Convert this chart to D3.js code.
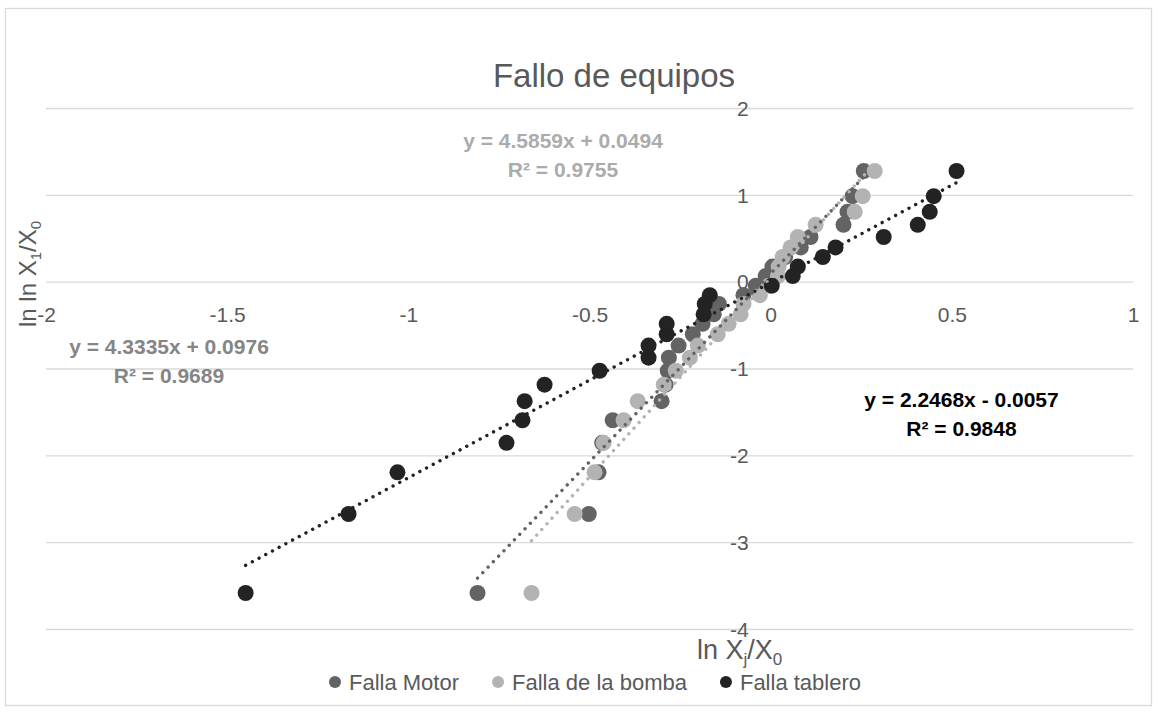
<!DOCTYPE html>
<html>
<head>
<meta charset="utf-8">
<script src="https://cdn.jsdelivr.net/npm/d3@7"></script>
<style>
  html, body { margin: 0; padding: 0; background: #ffffff; }
  svg { display: block; font-family: "Liberation Sans", Arial, sans-serif; }
</style>
</head>
<body>
<svg id="chart" width="1158" height="713"></svg>
<script>
// Weibull plot values: ln ln(1/(1-F)) for the 25 ranked failures
const yRanks = [-3.58, -2.67, -2.19, -1.85, -1.59, -1.37, -1.18, -1.02, -0.87, -0.73,
                -0.60, -0.48, -0.37, -0.25, -0.15, -0.04, 0.07, 0.18, 0.29, 0.40,
                0.52, 0.66, 0.81, 0.99, 1.28];

// ln Xj/X0 for each equipment failure mode
const motorX = [-0.809, -0.502, -0.475, -0.465, -0.436, -0.301, -0.290, -0.284, -0.281, -0.254,
                -0.215, -0.188, -0.157, -0.143, -0.075, -0.041, -0.014, 0.005, 0.040, 0.083,
                0.110, 0.201, 0.212, 0.226, 0.257];
const bombaX = [-0.660, -0.541, -0.486, -0.461, -0.406, -0.367, -0.295, -0.262, -0.223, -0.201,
                -0.146, -0.116, -0.083, -0.075, -0.030, -0.005, 0.020, 0.022, 0.033, 0.055,
                0.075, 0.124, 0.232, 0.254, 0.287];
const tableroX = [-1.449, -1.165, -1.030, -0.729, -0.685, -0.679, -0.624, -0.472, -0.337, -0.337,
                  -0.287, -0.287, -0.185, -0.182, -0.168, 0.003, 0.061, 0.075, 0.144, 0.179,
                  0.312, 0.406, 0.439, 0.450, 0.513];

const seriesNames = ["Falla Motor", "Falla de la bomba", "Falla tablero"];
const seriesColors = ["#636363", "#b3b3b3", "#232323"];
const labelColors = ["#858585", "#ababab", "#000000"];

// Linear trendline coefficients and fit quality
const slopes = [4.3335, 4.5859, 2.2468];
const intercepts = [0.0976, 0.0494, -0.0057];
const rSquared = ["0.9689", "0.9755", "0.9848"];
const equationTexts = ["y = 4.3335x + 0.0976", "y = 4.5859x + 0.0494", "y = 2.2468x - 0.0057"];

const xTicks = [-2, -1.5, -1, -0.5, 0, 0.5, 1];
const yTicks = [-4, -3, -2, -1, 0, 1, 2];

const svg = d3.select("#chart");
const W = 1158, H = 713;
const plot = { left: 46, right: 1133, top: 108.5, bottom: 629.5 };

const x = d3.scaleLinear().domain([-2, 1]).range([plot.left, plot.right]);
const y = d3.scaleLinear().domain([-4, 2]).range([plot.bottom, plot.top]);

// plain hyphen-minus for negative tick values
const tickText = d => String(d);

// chart area
svg.append("rect").attr("width", W).attr("height", H).attr("fill", "#ffffff");
svg.append("rect")
  .attr("x", 5.5).attr("y", 8.5).attr("width", 1146).attr("height", 697)
  .attr("fill", "none").attr("stroke", "#d9d9d9").attr("stroke-width", 1.3);

// title
svg.append("text")
  .attr("x", 614).attr("y", 87)
  .attr("text-anchor", "middle")
  .attr("font-size", 33)
  .attr("fill", "#595959")
  .text("Fallo de equipos");

// horizontal gridlines
svg.append("g").selectAll("line").data(yTicks).join("line")
  .attr("x1", plot.left).attr("x2", plot.right)
  .attr("y1", d => y(d)).attr("y2", d => y(d))
  .attr("stroke", "#d9d9d9").attr("stroke-width", 1.3);

// value axis labels, sitting beside x = 0
const yAxis = svg.append("g")
  .attr("transform", `translate(${x(0)},0)`)
  .call(d3.axisLeft(y).tickValues(yTicks).tickSize(0).tickPadding(22).tickFormat(tickText));
yAxis.select(".domain").remove();
yAxis.selectAll("text").attr("font-size", 21).attr("fill", "#595959")
  .attr("font-family", "Liberation Sans, Arial, sans-serif");

// category axis labels, below y = 0
const xAxis = svg.append("g")
  .attr("transform", `translate(0,${y(0)})`)
  .call(d3.axisBottom(x).tickValues(xTicks).tickSize(0).tickPadding(25).tickFormat(tickText));
xAxis.select(".domain").remove();
xAxis.selectAll("text").attr("font-size", 21).attr("fill", "#595959")
  .attr("font-family", "Liberation Sans, Arial, sans-serif");

// markers
const allX = [motorX, bombaX, tableroX];
const markerLayer = svg.append("g");
allX.forEach((xs, i) => {
  markerLayer.append("g").selectAll("circle").data(xs.map((v, k) => [v, yRanks[k]])).join("circle")
    .attr("cx", d => x(d[0])).attr("cy", d => y(d[1]))
    .attr("r", 8)
    .attr("fill", seriesColors[i]);
});

// dotted trendlines over the data range of each series
const line = d3.line().x(d => x(d[0])).y(d => y(d[1]));
allX.forEach((xs, i) => {
  const [lo, hi] = d3.extent(xs);
  const pts = [[lo, slopes[i] * lo + intercepts[i]], [hi, slopes[i] * hi + intercepts[i]]];
  svg.append("path")
    .attr("d", line(pts))
    .attr("fill", "none")
    .attr("stroke", seriesColors[i])
    .attr("stroke-width", 3.4)
    .attr("stroke-linecap", "round")
    .attr("stroke-dasharray", "0.01 7.6");
});

// trendline equations
const eqPos = [[169, 354, 383], [563, 148.3, 177], [961.5, 406.7, 435.7]];
eqPos.forEach((p, i) => {
  const g = svg.append("g").attr("font-weight", "bold").attr("font-size", 21)
    .attr("fill", labelColors[i]).attr("text-anchor", "middle");
  g.append("text").attr("x", p[0]).attr("y", p[1]).text(equationTexts[i]);
  g.append("text").attr("x", p[0]).attr("y", p[2]).text("R² = " + rSquared[i]);
});

// axis titles
const yTitle = svg.append("text")
  .attr("transform", "translate(36,274) rotate(-90)")
  .attr("text-anchor", "middle")
  .attr("font-size", 24)
  .attr("fill", "#595959");
yTitle.append("tspan").text("ln ln X");
yTitle.append("tspan").attr("font-size", 15).attr("dy", 5).text("1");
yTitle.append("tspan").attr("dy", -5).text("/X");
yTitle.append("tspan").attr("font-size", 15).attr("dy", 5).text("0");

const xTitle = svg.append("text")
  .attr("x", 697).attr("y", 659)
  .attr("text-anchor", "start")
  .attr("font-size", 27)
  .attr("fill", "#595959");
xTitle.append("tspan").text("ln X");
xTitle.append("tspan").attr("font-size", 17).attr("dy", 6).text("j");
xTitle.append("tspan").attr("dy", -6).text("/X");
xTitle.append("tspan").attr("font-size", 17).attr("dy", 6).text("0");

// legend row
const legend = svg.append("g");
const gap = 39;
let cursor = 335;
seriesNames.forEach((name, i) => {
  const g = legend.append("g").attr("transform", `translate(${cursor},682)`);
  g.append("circle").attr("cx", 0).attr("cy", 0).attr("r", 6).attr("fill", seriesColors[i]);
  const t = g.append("text").attr("x", 14).attr("y", 8)
    .attr("font-size", 22).attr("fill", "#595959").text(name);
  cursor += 14 + t.node().getComputedTextLength() + gap;
});
</script>
</body>
</html>
